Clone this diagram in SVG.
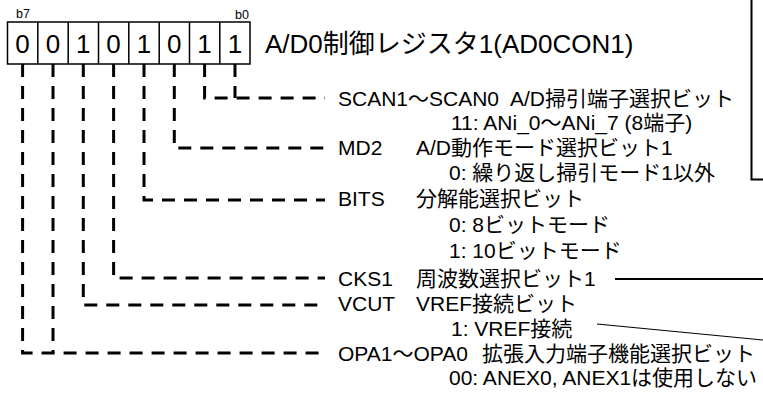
<svg xmlns="http://www.w3.org/2000/svg" width="763" height="399" viewBox="0 0 763 399">
<style>
text{font-family:"Liberation Sans","Noto Sans CJK JP",sans-serif;fill:#000}
.big{font-size:26px}
.bit{font-size:26px;text-anchor:middle}
.small{font-size:12.5px}
.row{font-size:21px}
.dash{fill:none;stroke:#000;stroke-width:3;stroke-dasharray:13 9}
.solid{fill:none;stroke:#000;stroke-width:2}
.thin{fill:none;stroke:#000;stroke-width:1.2}
</style>
<rect width="763" height="399" fill="#fff"/>
<g id="register">
<rect x="7.5" y="22" width="242.5" height="42" fill="none" stroke="#000" stroke-width="1.5"/>
<path d="M37.8 22V64M68.2 22V64M98.5 22V64M128.8 22V64M159.2 22V64M189.5 22V64M219.8 22V64" stroke="#000" stroke-width="1.5"/>
<text class="small" x="16" y="18">b7</text>
<text class="small" x="249" y="18.5" text-anchor="end">b0</text>
<text class="bit" x="22.6" y="53">0</text>
<text class="bit" x="53" y="53">0</text>
<text class="bit" x="83.3" y="53">1</text>
<text class="bit" x="113.6" y="53">0</text>
<text class="bit" x="144" y="53">1</text>
<text class="bit" x="174.3" y="53">0</text>
<text class="bit" x="204.6" y="53">1</text>
<text class="bit" x="235" y="53">1</text>
</g>
<g id="title"><text class="big" x="265" y="53">A/D0制御レジスタ1(AD0CON1)</text></g>
<g id="connectors">
<path class="dash" d="M235 64V98"/>
<path class="dash" d="M204.6 64V98H325"/>
<path class="dash" d="M174.3 64V148H325"/>
<path class="dash" d="M144 64V200H325"/>
<path class="dash" d="M113.6 64V278H325"/>
<path class="dash" d="M83.3 64V305H318"/>
<path class="dash" d="M53 64V353"/>
<path class="dash" d="M22.6 64V353H325"/>
<path class="solid" d="M615 279H763"/>
<path class="thin" d="M597 324L763 340"/>
<path class="solid" d="M751.5 0V179.5H763"/>
</g>
<g id="scan"><text class="row" x="338" y="105.5">SCAN1～SCAN0</text><text class="row" x="510" y="105.5">A/D掃引端子選択ビット</text><text class="row" x="451" y="130">11: ANi_0～ANi_7 (8端子)</text></g>
<g id="md2"><text class="row" x="338" y="155">MD2</text><text class="row" x="416" y="155">A/D動作モード選択ビット1</text><text class="row" x="449" y="179.5">0: 繰り返し掃引モード1以外</text></g>
<g id="bits"><text class="row" x="338" y="206">BITS</text><text class="row" x="416" y="206">分解能選択ビット</text><text class="row" x="449" y="231.5">0: 8ビットモード</text><text class="row" x="449" y="258">1: 10ビットモード</text></g>
<g id="cks1"><text class="row" x="338" y="285.5">CKS1</text><text class="row" x="416" y="285.5">周波数選択ビット1</text></g>
<g id="vcut"><text class="row" x="338" y="311">VCUT</text><text class="row" x="416" y="311">VREF接続ビット</text><text class="row" x="451" y="336">1: VREF接続</text></g>
<g id="opa"><text class="row" x="338" y="360.5">OPA1～OPA0</text><text class="row" x="482" y="360.5">拡張入力端子機能選択ビット</text><text class="row" x="449" y="385">00: ANEX0, ANEX1は使用しない</text></g>
</svg>
